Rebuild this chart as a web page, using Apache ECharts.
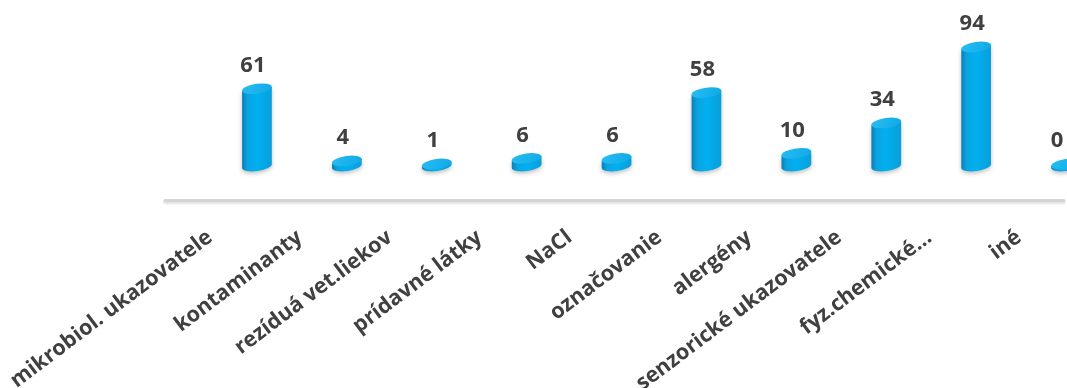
<!DOCTYPE html>
<html>
<head>
<meta charset="utf-8">
<script src="https://cdn.jsdelivr.net/npm/echarts@6/dist/echarts.min.js"></script>
<style>
  html, body { margin: 0; padding: 0; background: #fff; }
  #chart { width: 1067px; height: 388px; }
</style>
</head>
<body>
<div id="chart"></div>
<script>
  var categories = ['mikrobiol. ukazovatele', 'kontaminanty', 'rezíduá vet.liekov', 'prídavné látky', 'NaCl',
    'označovanie', 'alergény', 'senzorické ukazovatele', 'fyz.chemické…', 'iné'];
  var counts = [61, 4, 1, 6, 6, 58, 10, 34, 94, 0];

  // 3D floor offset of the cylinders against the axis line
  var OFFSET_X = 47, OFFSET_Y = 34;
  var RX = 15, RY = 5, TILT = -8;

  var bodyFill = new echarts.graphic.LinearGradient(0, 0, 1, 0, [
    { offset: 0, color: '#0b7db6' },
    { offset: 0.18, color: '#0aa3e0' },
    { offset: 0.5, color: '#00b0f0' },
    { offset: 1, color: '#0a9ed9' }
  ]);
  var topFill = new echarts.graphic.LinearGradient(0, 0, 1, 1, [
    { offset: 0, color: '#27bdf3' },
    { offset: 1, color: '#10a9e6' }
  ]);

  function renderCylinder(params, api) {
    var base = api.coord([api.value(0), 0]);
    var top = api.coord([api.value(0), api.value(1)]);
    var x = base[0] + OFFSET_X;
    var y0 = base[1] - OFFSET_Y;
    var y1 = Math.min(top[1] - OFFSET_Y, y0 - 2);
    var rad = TILT * Math.PI / 180;
    var dx = RX * Math.cos(rad), dy = RX * Math.sin(rad);
    var arc = ' A' + RX + ' ' + RY + ' ' + TILT + ' ';
    var body = 'M' + (x - dx) + ' ' + (y1 - dy) + ' L' + (x - dx) + ' ' + (y0 - dy) +
      arc + '0 0 ' + (x + dx) + ' ' + (y0 + dy) +
      ' L' + (x + dx) + ' ' + (y1 + dy) + ' Z';
    var cap = 'M' + (x - dx) + ' ' + (y1 - dy) + arc + '1 1 ' + (x + dx) + ' ' + (y1 + dy) +
      arc + '1 1 ' + (x - dx) + ' ' + (y1 - dy) + ' Z';
    return {
      type: 'group',
      children: [
        {
          type: 'path',
          shape: { pathData: body },
          style: { fill: bodyFill, shadowBlur: 4, shadowColor: 'rgba(0,0,0,0.25)', shadowOffsetY: 2 }
        },
        {
          type: 'path',
          shape: { pathData: cap },
          style: { fill: topFill }
        },
        {
          type: 'text',
          style: {
            text: String(api.value(1)),
            x: Math.min(x - 4, 1057),
            y: y1 - 12,
            align: 'center',
            verticalAlign: 'bottom',
            font: 'bold 22px "Open Sans"',
            fill: '#404040'
          }
        }
      ]
    };
  }

  var chart = echarts.init(document.getElementById('chart'));
  chart.setOption({
    backgroundColor: '#fff',
    animation: false,
    grid: { left: 165, right: 3, top: 0, bottom: 188, outerBoundsMode: 'none', containLabel: false },
    xAxis: {
      type: 'category',
      data: categories,
      axisLine: {
        lineStyle: { color: '#d4d4d4', width: 3, shadowColor: 'rgba(0,0,0,0.12)', shadowBlur: 2, shadowOffsetY: 2 }
      },
      axisTick: { show: false },
      axisLabel: {
        interval: 0,
        rotate: 37,
        margin: 35,
        color: '#404040',
        fontFamily: 'Open Sans',
        fontWeight: 'bold',
        fontSize: 21.5
      }
    },
    yAxis: {
      type: 'value',
      min: 0,
      max: 158,
      show: false,
      splitLine: { show: false }
    },
    series: [
      {
        type: 'custom',
        clip: false,
        renderItem: renderCylinder,
        encode: { x: 0, y: 1 },
        data: counts.map(function (v, i) { return [i, v]; })
      }
    ]
  });
</script>
</body>
</html>
